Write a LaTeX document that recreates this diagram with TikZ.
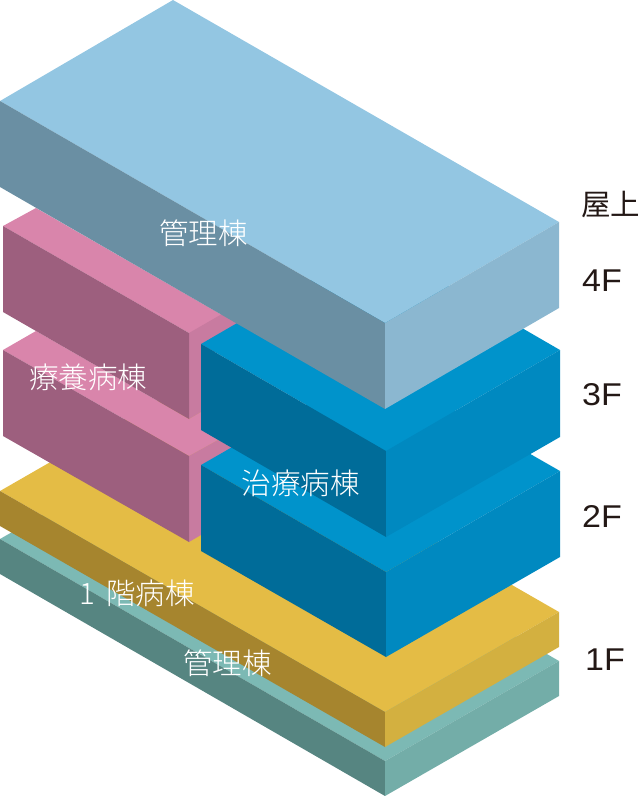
\documentclass[tikz,border=0pt]{standalone}
\usepackage{fontspec}
\setmainfont[FakeStretch=1.08]{Liberation Sans}
\newfontfamily\cjk{Noto Sans CJK JP Light}
\newfontfamily\cjkroof{Noto Sans CJK JP}
\definecolor{kanriTop}{HTML}{93C6E2}
\definecolor{kanriLeft}{HTML}{6A8FA3}
\definecolor{kanriRight}{HTML}{8BB7D0}
\definecolor{ryoyoTop}{HTML}{D985AB}
\definecolor{ryoyoLeft}{HTML}{9D5F7E}
\definecolor{ryoyoRight}{HTML}{C87BA0}
\definecolor{chiryoTop}{HTML}{0093CB}
\definecolor{chiryoLeft}{HTML}{006C99}
\definecolor{chiryoRight}{HTML}{0089C0}
\definecolor{ikkaiTop}{HTML}{E4BC45}
\definecolor{ikkaiLeft}{HTML}{A6852E}
\definecolor{ikkaiRight}{HTML}{D3B040}
\definecolor{baseTop}{HTML}{7CB9B4}
\definecolor{baseLeft}{HTML}{568581}
\definecolor{baseRight}{HTML}{73ADA8}
\definecolor{floorInk}{HTML}{231815}

\begin{document}
\begin{tikzpicture}[x=1pt, y=-1pt,
    wing/.style={font=\cjk\fontsize{29.5}{29.5}\selectfont, text=white, inner sep=0pt},
    storey/.style={font=\fontsize{31.5}{31.5}\selectfont, text=floorInk, inner sep=0pt},
    roof/.style={font=\cjkroof\fontsize{29.5}{29.5}\selectfont, text=floorInk, inner sep=0pt}
]
    \useasboundingbox (0,0) rectangle (640,796);

    % Ground floor base
    \fill[baseTop] (0,539) -- (174,439) -- (559,661) -- (385,761) -- cycle;
    \fill[baseLeft] (0,539) -- (385,761) -- (385,796) -- (0,574) -- cycle;
    \fill[baseRight] (385,761) -- (559,661) -- (559,696) -- (385,796) -- cycle;

    % First floor wing
    \fill[ikkaiTop] (0,491) -- (174,391) -- (559,612) -- (385,712) -- cycle;
    \fill[ikkaiLeft] (0,491) -- (385,712) -- (385,747) -- (0,526) -- cycle;
    \fill[ikkaiRight] (385,712) -- (559,612) -- (559,647) -- (385,747) -- cycle;

    % Lower pink wing
    \fill[ryoyoTop] (3,350) -- (36,331) -- (189,419) -- (201,412) -- (215,425) -- (218,440) -- (189,456) -- cycle;
    \fill[ryoyoRight] (189,456) -- (218,440) -- (240,449) -- (201,480) -- (201,535) -- (189,542) -- cycle;
    \fill[ryoyoLeft] (3,350) -- (189,456) -- (189,542) -- (3,436) -- cycle;

    % Upper pink wing
    \fill[ryoyoTop] (3,226) -- (36,208) -- (250,331) -- (189,333) -- cycle;
    \fill[ryoyoRight] (189,333) -- (222,314) -- (250,331) -- (201,360) -- (201,412) -- (189,419) -- cycle;
    \fill[ryoyoLeft] (3,226) -- (189,333) -- (189,419) -- (3,312) -- cycle;

    % Blue wing
    \fill[chiryoTop] (201,465) -- (375,365) -- (560,471) -- (386,572) -- cycle;
    \fill[chiryoLeft] (201,465) -- (386,572) -- (386,657) -- (201,551) -- cycle;
    \fill[chiryoRight] (386,572) -- (560,471) -- (560,557) -- (386,657) -- cycle;
    \fill[chiryoTop] (201,344) -- (375,243) -- (560,350) -- (386,451) -- cycle;
    \fill[chiryoLeft] (201,344) -- (386,451) -- (386,537) -- (201,430) -- cycle;
    \fill[chiryoRight] (386,451) -- (560,350) -- (560,437) -- (386,537) -- cycle;

    % Top block
    \fill[kanriTop] (0,101) -- (173,0) -- (559,222) -- (385,323) -- cycle;
    \fill[kanriLeft] (0,101) -- (385,323) -- (385,409) -- (0,187) -- cycle;
    \fill[kanriRight] (385,323) -- (559,222) -- (559,308) -- (385,409) -- cycle;

    % Wing names
    \node[wing] (kanriUpper) at (203.5,233) {管理棟};
    \node[wing] (ryoyo) at (88.5,377) {療養病棟};
    \node[wing] (chiryo) at (300.5,483) {治療病棟};
    \node[wing] (ikkai) at (137,593) {1 \kern5pt 階病棟};
    \node[wing] (kanriLower) at (227.5,663) {管理棟};

    % Floors
    \node[roof] (rooftop) at (610.5,205) {屋上};
    \node[storey] (f4) at (602,281) {4F};
    \node[storey] (f3) at (602,395) {3F};
    \node[storey] (f2) at (602,516) {2F};
    \node[storey] (f1) at (605,660) {1F};
\end{tikzpicture}
\end{document}
